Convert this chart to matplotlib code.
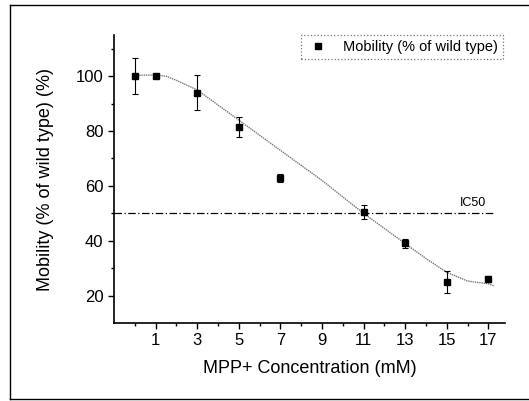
import numpy as np
import matplotlib
matplotlib.use('Agg')
from matplotlib import pyplot as plt
from matplotlib.ticker import FixedLocator
from matplotlib.lines import Line2D

# measured points
conc = [0, 1, 3, 5, 7, 11, 13, 15, 17]
mobility = [100, 100, 94, 81.5, 62.8, 50.5, 39, 25, 26]
err = [6.5, 0.8, 6.5, 3.7, 1.5, 2.5, 1.5, 4, 1]

# fitted curve
fit_x = [0, 1, 1.5, 2, 3, 4, 5, 6, 7, 8, 9, 10, 11, 12, 13, 14, 15, 16, 17, 17.3]
fit_y = [100.3, 100.5, 100, 98.5, 95, 89.5, 84, 78.5, 73, 67.5, 62, 56, 50,
         44.5, 39, 33.5, 28.5, 25.3, 24.3, 23.5]

ic50 = 50
xticks = [1, 3, 5, 7, 9, 11, 13, 15, 17]

plt.rcParams['font.family'] = ['Liberation Sans', 'DejaVu Sans']

fig = plt.figure(figsize=(5.29, 4.01), dpi=100)
ax = fig.add_axes([0.2155, 0.1945, 0.739, 0.718])

ax.plot(fit_x, fit_y, color='#777777', lw=1.0, ls=(0, (1, 0.6)), zorder=2)
ax.errorbar(conc, mobility, yerr=err, fmt='none', ecolor='black',
            elinewidth=0.8, capsize=2, capthick=0.8, zorder=3)
ax.plot(conc, mobility, 's', color='black', ms=5, zorder=4,
        label='Mobility (% of wild type)')
ax.plot([-1, 17.3], [ic50, ic50], color='black', lw=0.9, ls=(0, (6, 2, 1, 2)), zorder=1)
ax.text(16.9, 51.5, 'IC50', fontsize=9, ha='right', va='bottom')

ax.set_xlim(-1, 17.8)
ax.set_ylim(10, 115)
ax.xaxis.set_major_locator(FixedLocator(xticks))
ax.xaxis.set_minor_locator(FixedLocator([0, 2, 4, 6, 8, 10, 12, 14, 16]))
ax.yaxis.set_major_locator(FixedLocator([20, 40, 60, 80, 100]))
ax.yaxis.set_minor_locator(FixedLocator([30, 50, 70, 90, 110]))
ax.tick_params(which='major', direction='out', length=4, width=1, labelsize=12)
ax.tick_params(which='minor', direction='out', length=2.5, width=1)
ax.spines['top'].set_visible(False)
ax.spines['right'].set_visible(False)
ax.spines['left'].set_linewidth(1.2)
ax.spines['bottom'].set_linewidth(1.2)

ax.set_xlabel('MPP+ Concentration (mM)', fontsize=13, labelpad=8)
ax.set_ylabel('Mobility (% of wild type) (%)', fontsize=13, labelpad=16)

leg = ax.legend(loc='upper right', bbox_to_anchor=(0.995, 1.0), fontsize=10.5,
                frameon=True, fancybox=False, handletextpad=0.9, handlelength=1.6,
                borderpad=0.35, borderaxespad=0.0, numpoints=1)
leg.get_frame().set_edgecolor('#555555')
leg.get_frame().set_linestyle(':')
leg.get_frame().set_linewidth(0.9)

# outer frame (top, left, bottom)
for xs, ys in [([10/529, 1.0], [396/401, 396/401]),
               ([10/529, 10/401 * 0 + 10/529], [2/401, 396/401]),
               ([10/529, 1.0], [2/401, 2/401])]:
    fig.add_artist(Line2D(xs, ys, transform=fig.transFigure, color='black', lw=1.0))

fig.savefig('out.png', dpi=100)
